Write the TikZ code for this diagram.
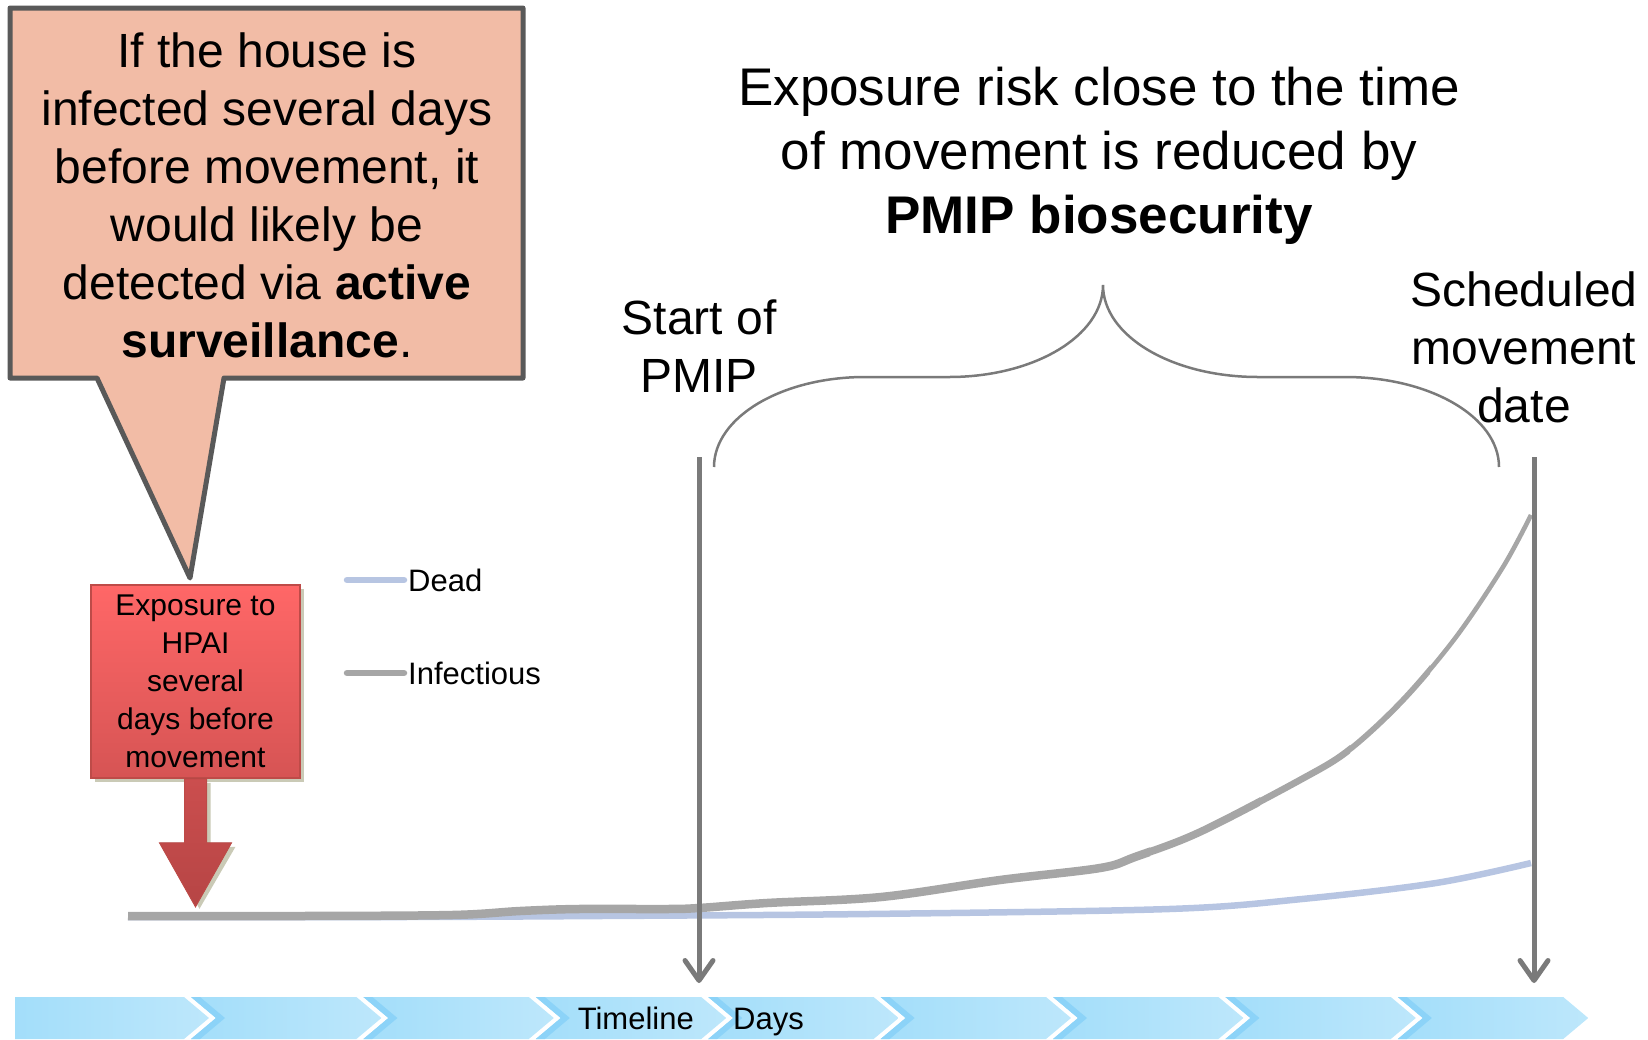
\documentclass[tikz,border=0pt]{standalone}
\usepackage{fontspec}
\setmainfont{Liberation Sans}
\usepackage{tikz}
\usetikzlibrary{positioning,arrows.meta,calc}
\definecolor{calloutFill}{HTML}{F2BCA6}
\definecolor{calloutEdge}{HTML}{595959}
\definecolor{alertTop}{HTML}{FF6767}
\definecolor{alertBot}{HTML}{D65454}
\definecolor{alertEdge}{HTML}{BE4B48}
\definecolor{dropTop}{HTML}{CB4E4E}
\definecolor{dropBot}{HTML}{B64545}
\definecolor{shadowTan}{HTML}{CACAB6}
\definecolor{markGray}{HTML}{7A7A7A}
\definecolor{infGray}{HTML}{A6A6A6}
\definecolor{deadBlue}{HTML}{B7C5E2}
\definecolor{chevLeft}{HTML}{A3DEFA}
\definecolor{chevRight}{HTML}{BDE7FB}
\definecolor{chevEdge}{HTML}{8CD3F8}

\newcommand{\pxfont}[2]{\fontsize{#1}{#2}\selectfont}

% infection curves (page pixels, y grows downwards)
\def\infcurve{plot[smooth, tension=0.55] coordinates {(128,916) (300,916) (452,915) (520,911) (578,909)
  (667,909) (699,908) (767,903) (881,897) (1000,880) (1100,868) (1135,857) (1200,832)
  (1300,780) (1349,750) (1403,700) (1456,637) (1503,567) (1531,515)}}
\def\deadcurve{plot[smooth, tension=0.55] coordinates {(128,917) (400,917) (600,916) (868,914)
  (1169,909) (1302,899) (1436,883) (1531,863)}}

\begin{document}
\begin{tikzpicture}[
    x=1pt, y=-1pt,
    bigtext/.style={font=\pxfont{48}{58}, align=center, inner sep=0pt},
    smalltext/.style={font=\pxfont{31}{38}, inner sep=0pt},
    markarrow/.style={draw=markGray, line width=5pt, -{Straight Barb[length=20pt, width=28pt, round]}},
    legendline/.style={line width=6.5pt, line cap=round}
  ]
  \useasboundingbox (0,0) rectangle (1648,1039);

  % Speech callout
  \filldraw[fill=calloutFill, draw=calloutEdge, line width=5pt, line join=round]
    (10,8) -- (523,8) -- (523,378) -- (224,378) -- (190,578) -- (97,378) -- (10,378) -- cycle;
  \node[bigtext] (callout) at (267,195)
    {If the house is\\infected several days\\before movement, it\\would likely be\\
     detected via \textbf{active}\\\textbf{surveillance}.};

  % Exposure box with drop arrow
  \fill[shadowTan] (95,589) rectangle (304,782);
  \node[draw=alertEdge, line width=1.5pt, top color=alertTop, bottom color=alertBot,
        minimum width=209pt, minimum height=193pt, align=center, inner sep=0pt,
        font=\pxfont{30}{38}] (expo) at (195.5,681.5)
    {Exposure to\\HPAI\\several\\days before\\movement};
  \coordinate (expoTip) at ($(expo.south)+(0,128)$);
  \fill[shadowTan] ($(expo.south)+(-7,4)$) -- ++(0,64) -- ++(-25,0) -- ($(expoTip)+(4,2)$)
    -- ($(expo.south)+(40,68)$) -- ++(-25,0) -- ++(0,-64) -- cycle;
  \filldraw[draw=alertEdge, line width=1pt, top color=dropTop, bottom color=dropBot]
    ($(expo.south)+(-11,0)$) -- ++(0,64) -- ++(-25,0) -- (expoTip)
    -- ($(expo.south)+(36,64)$) -- ++(-25,0) -- ++(0,-64) -- cycle;

  % Legend
  \node[smalltext, anchor=west] (deadKey) at (408,580) {Dead};
  \node[smalltext, anchor=west] (infKey) at (408,673) {Infectious};
  \draw[legendline, deadBlue] ([xshift=-4pt]deadKey.west) -- ++(-57,0);
  \draw[legendline, infGray] ([xshift=-4pt]infKey.west) -- ++(-57,0);

  % Dead and infectious curves, the latter thinning towards the right
  \draw[deadBlue, line width=6.5pt] \deadcurve;
  \foreach \xa/\xb/\w in {0/1150/8.5, 1150/1260/7.6, 1260/1350/6.7, 1350/1430/5.7, 1430/1648/4.6} {
    \begin{scope}
      \clip (\xa,400) rectangle (\xb,960);
      \draw[infGray, line width=\w pt] \infcurve;
    \end{scope}
  }

  % Brace over the PMIP window
  \draw[markGray, line width=2.5pt]
    (714,467) .. controls (714,417) and (782,377) .. (865,377) -- (949,377)
    .. controls (1034,377) and (1103,336) .. (1103,285)
    .. controls (1103,336) and (1172,377) .. (1258,377) -- (1345,377)
    .. controls (1430,377) and (1499,417) .. (1499,467);
  \node[font=\pxfont{53}{64}, align=center, inner sep=0pt] (risk) at (1099,156)
    {Exposure risk close to the time\\of movement is reduced by\\\textbf{PMIP biosecurity}};

  % Start of PMIP and movement date markers
  \node[bigtext] (pmipLbl) at (699,346) {Start of\\PMIP};
  \node[bigtext] (moveLbl) at (1524,347) {Scheduled\\movement\\date};
  \coordinate (pmipTop) at (699,457);
  \coordinate (pmipEnd) at (699,983);
  \coordinate (moveTop) at (1534,457);
  \coordinate (moveEnd) at (1534,983);
  \draw[markarrow] (pmipTop) -- (pmipEnd);
  \draw[markarrow] (moveTop) -- (moveEnd);

  % Timeline chevrons
  \foreach \i in {0,...,8} {
    \pgfmathsetmacro{\xr}{184+172.4*\i}
    \pgfmathsetmacro{\xl}{\i==0 ? 15 : \xr-165.4}
    \ifnum\i=0
      \shade[left color=chevLeft, right color=chevRight]
        (\xl,997) -- (\xr,997) -- (\xr+25,1018) -- (\xr,1039) -- (\xl,1039) -- cycle;
    \else
      \shade[left color=chevLeft, right color=chevRight]
        (\xl,997) -- (\xr,997) -- (\xr+25,1018) -- (\xr,1039) -- (\xl,1039) -- (\xl+25,1018) -- cycle;
      \fill[chevEdge]
        (\xl,997) -- (\xl+9,997) -- (\xl+34,1018) -- (\xl+9,1039) -- (\xl,1039) -- (\xl+25,1018) -- cycle;
    \fi
  }
  \node[smalltext, anchor=base east] (tlLabel) at (694,1029) {Timeline};
  \node[smalltext, right=39pt of tlLabel.base east, anchor=base west] (tlDays) {Days};
\end{tikzpicture}
\end{document}
